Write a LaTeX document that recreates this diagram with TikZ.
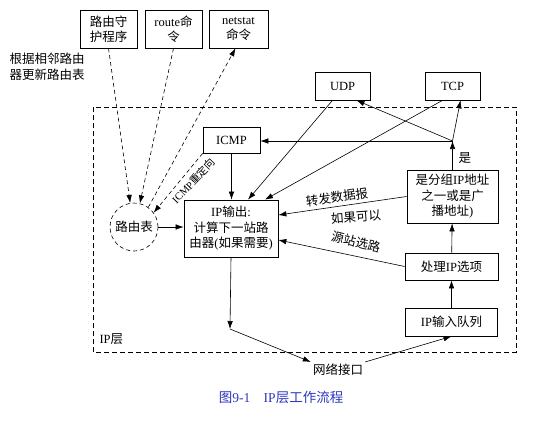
\documentclass[tikz,border=0pt]{standalone}
\usepackage{fontspec}
\setmainfont{Liberation Serif}
\newfontfamily\cjk{Noto Sans CJK SC}
\usetikzlibrary{arrows.meta}
\definecolor{capblue}{RGB}{45,55,190}

\begin{document}
\begin{tikzpicture}[x=1pt,y=-1pt,
  every node/.style={font=\fontsize{12.5}{15.5}\selectfont},
  box/.style={draw,line width=0.7pt,align=center,inner sep=0pt},
  arr/.style={line width=0.6pt,-{Latex[length=8pt,width=5.5pt]}},
  darr/.style={arr,dash pattern=on 4pt off 3pt}]
  \useasboundingbox (0,0) rectangle (553,425);
  % IP layer frame
  \coordinate (l1) at (93,107);
  \coordinate (l2) at (516,352);
  \draw[line width=0.6pt,dash pattern=on 5pt off 3pt]
    (l1)
    rectangle
    (l2);
  \node[anchor=west] (layer) at (96,339) {IP{\cjk 层}};
  % boxes
  \node[box,minimum width=57,minimum height=38] (daemon) at (108.5,29)
    {\cjk 路由守\\\cjk 护程序};
  \node[box,minimum width=57,minimum height=38] (routecmd) at (173.5,29)
    {route{\cjk 命}\\\cjk 令};
  \node[box,minimum width=59,minimum height=38] (netstat) at (238.5,29)
    {netstat\\\cjk 命令};
  \node[align=left,anchor=west] (note) at (6,67)
    {\cjk 根据相邻路由\\\cjk 器更新路由表};
  \node[box,minimum width=55,minimum height=28] (udp) at (342.5,86) {UDP};
  \node[box,minimum width=55,minimum height=28] (tcp) at (452.5,86) {TCP};
  \node[box,minimum width=57,minimum height=26] (icmp) at (231.5,140) {ICMP};
  \node[box,minimum width=94,minimum height=57] (ipout) at (231,228.5)
    {IP{\cjk 输出}:\\\cjk 计算下一站路\\{\cjk 由器}({\cjk 如果需要})};
  \node[draw,circle,line width=0.6pt,dash pattern=on 4pt off 3pt,
    minimum size=48,inner sep=0pt] (rtable) at (134,227) {\cjk 路由表};
  \node[box,minimum width=91,minimum height=53] (local) at (452.5,196.5)
    {{\cjk 是分组}IP{\cjk 地址}\\\cjk 之一或是广\\{\cjk 播地址})};
  \node[box,minimum width=93,minimum height=27] (options) at (451.5,266.5)
    {{\cjk 处理}IP{\cjk 选项}};
  \node[box,minimum width=92,minimum height=28] (inqueue) at (451.5,322)
    {IP{\cjk 输入队列}};
  \node[inner sep=2pt] (netif) at (338,370) {\cjk 网络接口};
  \coordinate (jn) at (452.5,141);
  \coordinate (turn) at (230,329);
  % input path
  \draw[arr]
    (inqueue)
    --
    (options);
  \draw[arr]
    (options)
    --
    (local);
  \draw[arr]
    (local)
    --
    (jn);
  \node[anchor=west] (yes) at (455,158) {\cjk 是};
  \draw[arr]
    (jn)
    --
    ([xshift=8]tcp.south);
  \draw[arr]
    (jn)
    --
    ([xshift=14]udp.south);
  \draw[arr]
    (jn)
    --
    (icmp.east |- jn);
  % towards IP output
  \draw[arr]
    ([xshift=-10]udp.south)
    --
    ([xshift=17]ipout.north);
  \draw[arr]
    ([xshift=-10]tcp.south)
    --
    ([xshift=34]ipout.north);
  \draw[arr]
    (icmp.south)
    --
    (icmp.south |- ipout.north);
  \draw[arr]
    (local.west)
    --
    ([yshift=13.5]ipout.east);
  \draw[arr]
    (options.west)
    --
    ([yshift=-11.5]ipout.east);
  \node[rotate=8] (fwd) at (337,197) {\cjk 转发数据报};
  \node[rotate=4] (ifok) at (356,217) {\cjk 如果可以};
  \node[rotate=-14] (srcrt) at (356,242) {\cjk 源站选路};
  \draw[arr]
    (rtable.east)
    --
    (rtable.east -| ipout.west);
  % routing table updates
  \draw[darr]
    (daemon.south)
    --
    (rtable.99);
  \draw[darr]
    (routecmd.south)
    --
    (rtable.76);
  \draw[darr]
    (rtable.54)
    --
    ([xshift=-3]netstat.south);
  \draw[darr]
    (icmp.south west)
    --
    (rtable.36);
  \node[rotate=46,inner sep=0pt,font=\fontsize{10.5}{12}\selectfont] (redir)
    at (193.5,181) {ICMP{\cjk 重定向}};
  % network interface
  \draw[arr]
    (ipout.south)
    --
    (turn);
  \draw[arr]
    (turn)
    --
    (netif.north west);
  \draw[arr]
    (netif.north east)
    --
    (inqueue.south);
  \node[text=capblue,font=\fontsize{13.5}{16}\selectfont] (caption) at (281,397)
    {{\cjk 图}9-1\quad IP{\cjk 层工作流程}};
\end{tikzpicture}
\end{document}
